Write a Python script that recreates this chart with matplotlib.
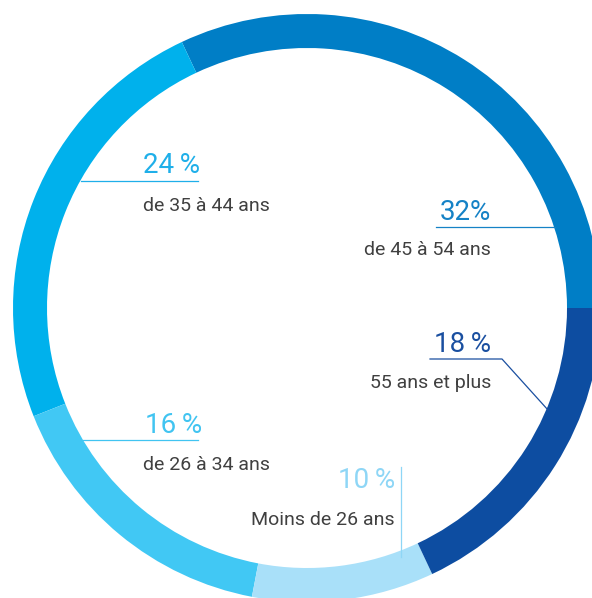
import matplotlib
matplotlib.use("Agg")
import matplotlib.pyplot as plt

# données
tranches = ["de 45 à 54 ans", "de 35 à 44 ans", "de 26 à 34 ans", "Moins de 26 ans", "55 ans et plus"]
parts = [32, 24, 16, 10, 18]
etiquettes = ["32%", "24\u2009%", "16\u2009%", "10\u2009%", "18\u2009%"]
couleurs = ["#007EC6", "#00B1EC", "#41C8F4", "#A9E0F9", "#0D4DA1"]
couleurs_txt = ["#1582C6", "#1FAFE9", "#41C4F1", "#8ED6F6", "#1A4FA0"]

H = 598
plt.rcParams["font.family"] = ["Roboto", "DejaVu Sans"]

fig = plt.figure(figsize=(5.92, 5.98), dpi=100)
ax = fig.add_axes([0, 0, 1, 1])

# anneau
ax.pie(parts, colors=couleurs, startangle=0, counterclock=True,
       center=(307, H - 308), radius=294, frame=True,
       wedgeprops=dict(width=34, linewidth=0))
ax.set_xlim(0, 592)
ax.set_ylim(0, H)
ax.set_aspect("equal")
ax.axis("off")

def y(v):
    return H - v

gris = "#404040"
fs_pct = 20
fs_txt = 14
lw = 0.9

# 24 % - gauche
ax.text(143, y(173), etiquettes[1], color=couleurs_txt[1], fontsize=fs_pct, ha="left", va="baseline")
ax.plot([81, 198], [y(181), y(181)], color=couleurs_txt[1], lw=lw)
ax.text(143, y(211), tranches[1], color=gris, fontsize=fs_txt, ha="left", va="baseline")

# 32% - droite
ax.text(491, y(220), etiquettes[0], color=couleurs_txt[0], fontsize=fs_pct, ha="right", va="baseline")
ax.plot([436, 555], [y(227), y(227)], color=couleurs_txt[0], lw=lw)
ax.text(491, y(255), tranches[0], color=gris, fontsize=fs_txt, ha="right", va="baseline")

# 18 % - droite
ax.text(491, y(352), etiquettes[4], color=couleurs_txt[4], fontsize=fs_pct, ha="right", va="baseline")
ax.plot([430, 502, 548], [y(359), y(359), y(410)], color=couleurs_txt[4], lw=lw)
ax.text(491, y(388), tranches[4], color=gris, fontsize=fs_txt, ha="right", va="baseline")

# 16 % - gauche
ax.text(145, y(433), etiquettes[2], color=couleurs_txt[2], fontsize=fs_pct, ha="left", va="baseline")
ax.plot([83, 198], [y(440), y(440)], color=couleurs_txt[2], lw=lw)
ax.text(143, y(470), tranches[2], color=gris, fontsize=fs_txt, ha="left", va="baseline")

# 10 % - bas
ax.text(395, y(488), etiquettes[3], color=couleurs_txt[3], fontsize=fs_pct, ha="right", va="baseline")
ax.plot([401, 401], [y(467), y(557)], color=couleurs_txt[3], lw=lw)
ax.text(395, y(525), tranches[3], color=gris, fontsize=fs_txt, ha="right", va="baseline")

fig.savefig("out.png", dpi=100, facecolor="white")
